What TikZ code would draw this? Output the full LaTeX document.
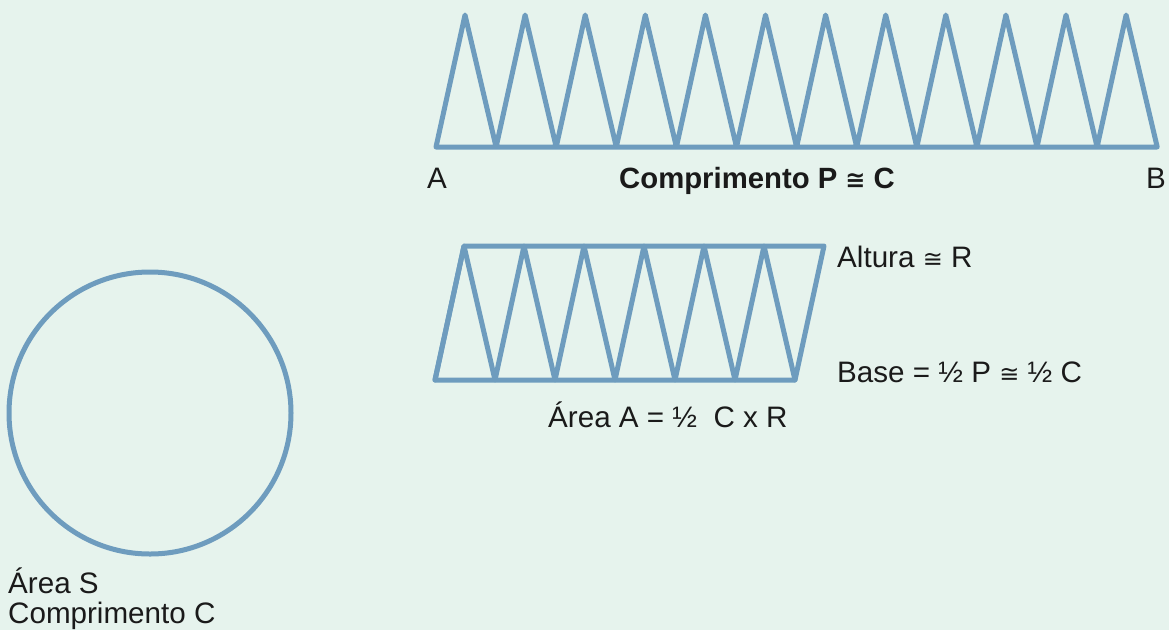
\documentclass[tikz,border=0pt]{standalone}
\usepackage{fontspec}
\setmainfont{Liberation Sans}
\newfontfamily\symfont{DejaVu Sans}
\definecolor{bgcol}{RGB}{230,243,237}
\definecolor{figblue}{RGB}{110,156,190}
\definecolor{ink}{RGB}{26,26,26}
\newcommand{\approxeq}{{\symfont\fontsize{24}{28}\selectfont ≅}}
\begin{document}
\begin{tikzpicture}[x=1pt,y=-1pt,
  fig/.style={draw=figblue,line width=5pt,line join=round,line cap=round},
  lbl/.style={anchor=base west,inner sep=0pt,text=ink,font=\fontsize{29.6}{33}\selectfont}]
\fill[bgcol] (0,0) rectangle (1169,630);
\useasboundingbox (0,0) rectangle (1169,630);
% top zigzag (length P)
\draw[fig] (436,147) foreach \i in {0,...,11} { -- ({436+60.1*\i+29},15) -- ({436+60.1*(\i+1)},147) } -- cycle;
% rearranged parallelogram
\draw[fig] (464,246) -- (824,246) -- (795,380) -- (435,380) -- cycle;
\draw[fig] (435,380) foreach \i in {0,...,5} { -- ({464+60*\i},246) -- ({495+60*\i},380) };
% circle
\draw[fig] (150,413) circle[radius=141pt];
% labels
\node[lbl] (lA) at (427,188) {A};
\node[lbl,font={\fontsize{29.3}{33}\selectfont\bfseries}] (title) at (619,188) {Comprimento P \approxeq{} C};
\node[lbl] (lB) at (1146,188) {B};
\node[lbl] (alt) at (837,267) {Altura \approxeq{} R};
\node[lbl] (base) at (837,382) {Base = ½ P \approxeq{} ½ C};
\node[lbl] (area) at (548,427) {Área A = ½\ \ C x R};
\node[lbl] (areaS) at (8,593) {Área S};
\node[lbl] (compC) at (8,623) {Comprimento C};
\end{tikzpicture}
\end{document}
